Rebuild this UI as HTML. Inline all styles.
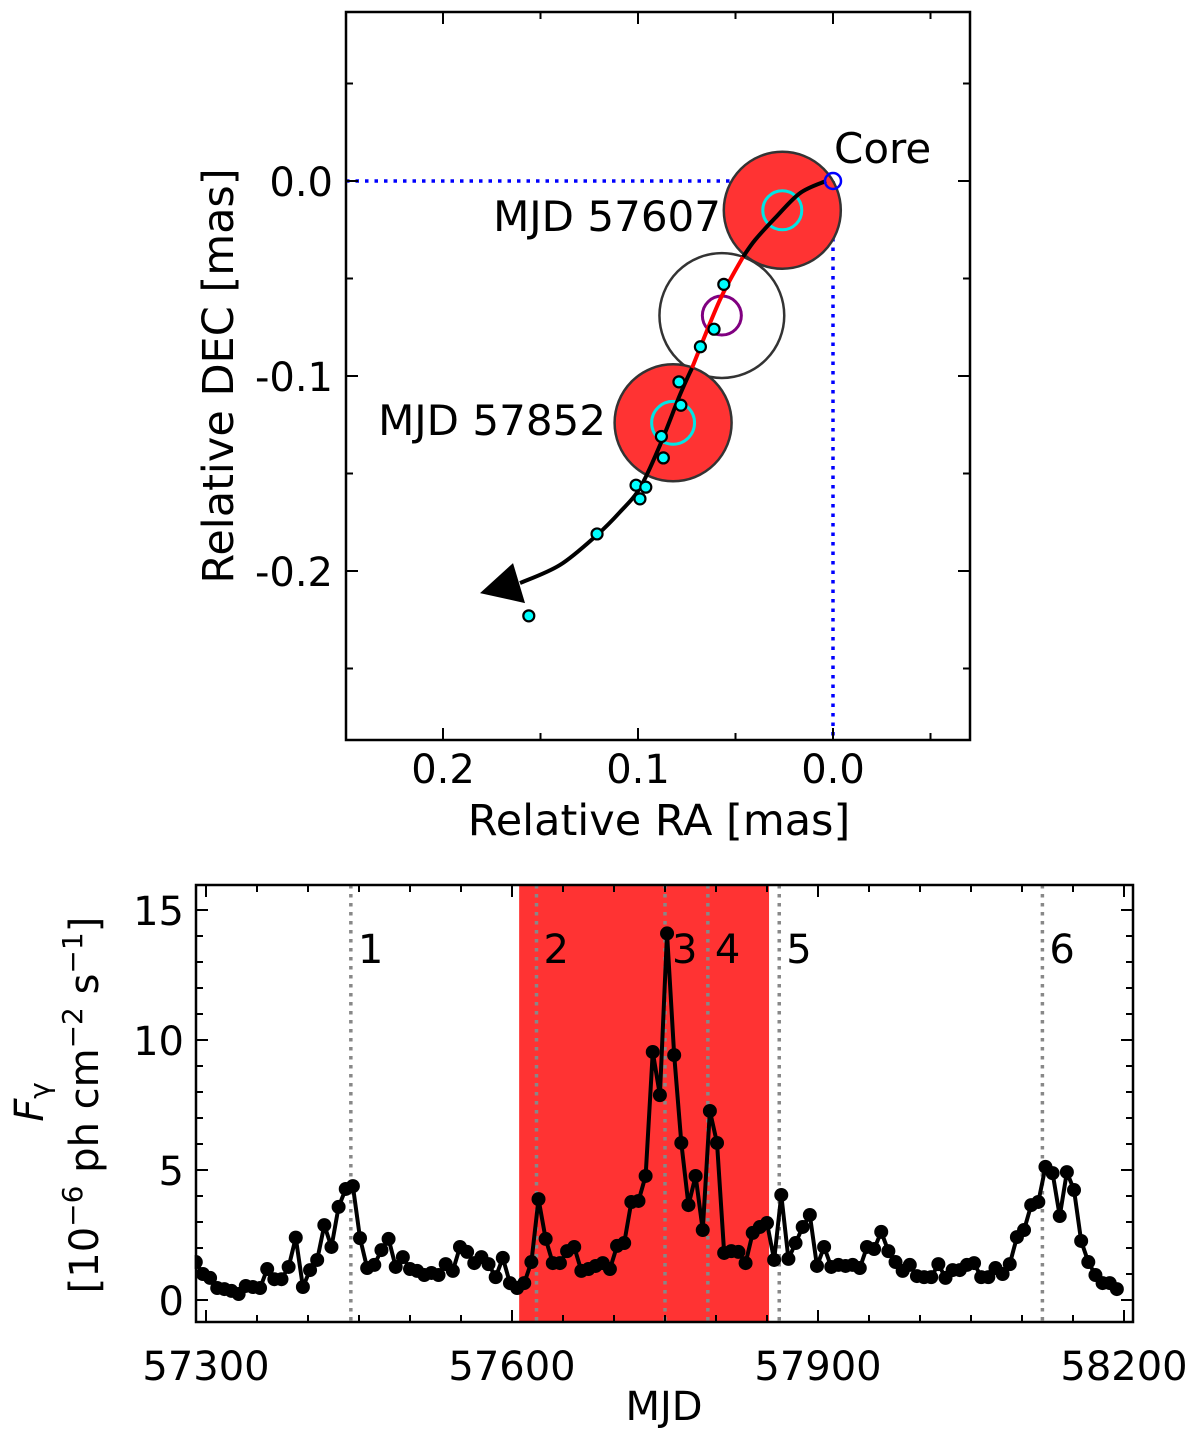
<!DOCTYPE html>
<html><head><meta charset="utf-8">
<style>
html,body{margin:0;padding:0;background:#fff;}
svg text{font-family:"DejaVu Sans","Liberation Sans",sans-serif;fill:#000;}
</style></head>
<body>
<svg id="fig" width="1200" height="1429" viewBox="0 0 1200 1429" xmlns="http://www.w3.org/2000/svg">
<g id="topPanel"></g>
<g id="botPanel"></g>
</svg>
<script>
// ---------- top panel data (mas) ----------
const pointRA  = [0.056, 0.061, 0.068, 0.079, 0.078, 0.088, 0.087, 0.101, 0.096, 0.099, 0.121, 0.156];
const pointDEC = [-0.053, -0.076, -0.085, -0.103, -0.115, -0.131, -0.142, -0.156, -0.157, -0.163, -0.181, -0.223];
const blobRA   = [0.026, 0.057, 0.082];
const blobDEC  = [-0.015, -0.069, -0.124];
const blobR    = [0.030, 0.032, 0.030];
const innerR   = [0.010, 0.010, 0.011];
const curveRA  = [0.0036, 0.0169, 0.0297, 0.040, 0.0462, 0.058, 0.0723, 0.0785, 0.0887, 0.099, 0.1092, 0.121, 0.140, 0.1605];
const curveDEC = [0.0, -0.0062, -0.019, -0.0303, -0.0390, -0.061, -0.0959, -0.1097, -0.1354, -0.1574, -0.1697, -0.1815, -0.1969, -0.2062];
const topXTicks = [0.2, 0.1, 0.0];
const topYTicks = [0.0, -0.1, -0.2];
const topXTickLabels = ["0.2", "0.1", "0.0"];
const topYTickLabels = ["0.0", "-0.1", "-0.2"];

// ---------- light curve data ----------
const mjdStart = 57290, mjdStep = 7;
const flux = [1.46,1.0,0.85,0.46,0.42,0.35,0.23,0.54,0.5,0.46,1.19,0.8,0.8,1.27,2.4,0.5,1.15,1.54,2.88,2.04,3.58,4.27,4.38,2.38,1.23,1.35,1.92,2.35,1.27,1.65,1.19,1.12,0.96,1.04,0.96,1.38,1.12,2.04,1.85,1.42,1.65,1.38,0.88,1.62,0.65,0.46,0.65,
1.46,3.88,2.35,1.42,1.42,1.88,2.04,1.12,1.19,1.31,1.42,1.19,2.08,2.19,3.77,3.81,4.77,9.54,7.88,14.1,9.42,6.04,3.65,4.77,2.69,7.27,6.04,1.81,1.88,1.85,1.42,2.58,2.81,2.96,1.54,4.04,1.58,2.19,2.81,3.27,1.31,
2.04,1.27,1.35,1.31,1.35,1.23,2.04,1.96,2.62,1.88,1.46,1.12,1.35,0.92,0.88,0.88,1.38,0.85,1.15,1.15,1.35,1.42,0.88,0.88,1.23,1.0,1.38,2.42,2.69,3.65,3.77,5.12,4.88,3.23,4.92,4.23,2.27,1.46,0.96,0.65,0.65,0.42];
const epochMJD = [57442, 57624, 57750, 57792, 57862, 58120];
const epochLabels = ["1","2","3","4","5","6"];
const bandStart = 57607, bandEnd = 57852;
const botXTicks = [57300, 57600, 57900, 58200];
const botXTickLabels = ["57300","57600","57900","58200"];
const botYTicks = [0, 5, 10, 15];
const botYTickLabels = ["0","5","10","15"];

const NS = "http://www.w3.org/2000/svg";
function mk(parent, tag, attrs, text) {
  const e = document.createElementNS(NS, tag);
  for (const k in attrs) e.setAttribute(k, attrs[k]);
  if (text !== undefined) e.textContent = text;
  parent.appendChild(e);
  return e;
}

// ===== TOP PANEL =====
const topG = document.getElementById('topPanel');
const TL = 346, TR = 970, TT = 12, TB = 740;
const sx = ra => 833 - ra * 1950;
const sy = dec => 181 - dec * 1950;
const sr = r => r * 1950;

let l1 = mk(topG, 'line', {x1: TL, y1: sy(0), x2: sx(0), y2: sy(0), stroke: '#0000ff', 'stroke-width': 3.5, 'stroke-dasharray': '3.5,6'});


let l2 = mk(topG, 'line', {x1: sx(0), y1: sy(0), x2: sx(0), y2: TB, stroke: '#0000ff', 'stroke-width': 3.5, 'stroke-dasharray': '3.5,6'});



const blobFill = ['#ff3333', '#ffffff', '#ff3333'];
const innerCol = ['#00e5e5', '#800080', '#00e5e5'];
for (let i = 0; i < blobRA.length; i++) {
  let c = mk(topG, 'circle', {cx: sx(blobRA[i]), cy: sy(blobDEC[i]), r: sr(blobR[i]), fill: blobFill[i], stroke: '#333', 'stroke-width': 2.5});
  
  
  let ci = mk(topG, 'circle', {cx: sx(blobRA[i]), cy: sy(blobDEC[i]), r: sr(innerR[i]), fill: 'none', stroke: innerCol[i], 'stroke-width': 3});
  
  
}

function curvePath(idx0, idx1) {
  const P = [];
  for (let i = idx0; i <= idx1; i++) P.push([sx(curveRA[i]), sy(curveDEC[i])]);
  let d = 'M' + P[0][0] + ',' + P[0][1];
  for (let i = 0; i < P.length - 1; i++) {
    const p0 = P[Math.max(0, i - 1)], p1 = P[i], p2 = P[i + 1], p3 = P[Math.min(P.length - 1, i + 2)];
    d += ' C' + (p1[0] + (p2[0] - p0[0]) / 6) + ',' + (p1[1] + (p2[1] - p0[1]) / 6) + ' ' +
         (p2[0] - (p3[0] - p1[0]) / 6) + ',' + (p2[1] - (p3[1] - p1[1]) / 6) + ' ' + p2[0] + ',' + p2[1];
  }
  return d;
}
let pA = mk(topG, 'path', {d: curvePath(0, 4), fill: 'none', stroke: '#000', 'stroke-width': 4});


let pB = mk(topG, 'path', {d: curvePath(4, 6), fill: 'none', stroke: '#ff0000', 'stroke-width': 4});


let pC = mk(topG, 'path', {d: curvePath(6, curveRA.length - 1), fill: 'none', stroke: '#000', 'stroke-width': 4});


const ex = sx(curveRA[curveRA.length - 1]), ey = sy(curveDEC[curveDEC.length - 1]);
let ah = mk(topG, 'polygon', {points: (ex - 40) + ',' + (ey + 10) + ' ' + (ex - 7) + ',' + (ey - 20) + ' ' + (ex + 5) + ',' + (ey + 20), fill: '#000'});



for (let i = 0; i < pointRA.length; i++) {
  let c = mk(topG, 'circle', {cx: sx(pointRA[i]), cy: sy(pointDEC[i]), r: 5.5, fill: '#00ffff', stroke: '#000', 'stroke-width': 2.2});
  
  
}
let core = mk(topG, 'circle', {cx: sx(0), cy: sy(0), r: 8, fill: 'none', stroke: '#0000ff', 'stroke-width': 2.5});



let t1 = mk(topG, 'text', {x: 834, y: 163, 'font-size': 42}, 'Core');


let t2 = mk(topG, 'text', {x: 721, y: 231, 'font-size': 42, 'text-anchor': 'end'}, 'MJD 57607');


let t3 = mk(topG, 'text', {x: 606, y: 435, 'font-size': 42, 'text-anchor': 'end'}, 'MJD 57852');



let fr = mk(topG, 'rect', {x: TL, y: TT, width: TR - TL, height: TB - TT, fill: 'none', stroke: '#000', 'stroke-width': 2.5});


for (let k = -1; k <= 5; k++) {
  const x = sx(k * 0.05); if (x < TL || x > TR) continue;
  const L = (k % 2 === 0) ? 12 : 7;
  mk(topG, 'line', {x1: x, y1: TB, x2: x, y2: TB - L, stroke: '#000', 'stroke-width': 2});
  mk(topG, 'line', {x1: x, y1: TT, x2: x, y2: TT + L, stroke: '#000', 'stroke-width': 2});
}
for (let k = -6; k <= 2; k++) {
  const y = sy(k * 0.05); if (y < TT || y > TB) continue;
  const L = (k % 2 === 0) ? 12 : 7;
  mk(topG, 'line', {x1: TL, y1: y, x2: TL + L, y2: y, stroke: '#000', 'stroke-width': 2});
  mk(topG, 'line', {x1: TR, y1: y, x2: TR - L, y2: y, stroke: '#000', 'stroke-width': 2});
}
topXTicks.forEach((v, i) => {
  let t = mk(topG, 'text', {x: sx(v), y: 783, 'font-size': 40, 'text-anchor': 'middle'}, topXTickLabels[i]);
  
  
});
topYTicks.forEach((v, i) => {
  let t = mk(topG, 'text', {x: 333, y: sy(v) + 15, 'font-size': 40, 'text-anchor': 'end'}, topYTickLabels[i]);
  
  
});
let xt = mk(topG, 'text', {x: 659, y: 835, 'font-size': 43, 'text-anchor': 'middle'}, 'Relative RA [mas]');


let yt = mk(topG, 'text', {x: 0, y: 0, 'font-size': 43, 'text-anchor': 'middle', transform: 'translate(233,376) rotate(-90)'}, 'Relative DEC [mas]');



// ===== BOTTOM PANEL =====
const botG = document.getElementById('botPanel');
const BL = 196, BR = 1133, BT = 885, BB = 1322;
const bx = m => 206 + (m - 57300) * 1.02;
const by = f => 1300 - f * 26;

let band = mk(botG, 'rect', {x: bx(bandStart), y: BT, width: bx(bandEnd) - bx(bandStart), height: BB - BT, fill: '#ff3333'});



epochMJD.forEach((m, i) => {
  let l = mk(botG, 'line', {x1: bx(m), y1: BT, x2: bx(m), y2: BB, stroke: '#888', 'stroke-width': 3.5, 'stroke-dasharray': '3.5,5.5'});
  
  
  let t = mk(botG, 'text', {x: bx(m) + 7, y: 963, 'font-size': 40}, epochLabels[i]);
  
  
});

let pts = flux.map((f, i) => bx(mjdStart + i * mjdStep) + ',' + by(f)).join(' ');
let lc = mk(botG, 'polyline', {points: pts, fill: 'none', stroke: '#000', 'stroke-width': 4, 'stroke-linejoin': 'round'});


flux.forEach((f, i) => {
  let c = mk(botG, 'circle', {cx: bx(mjdStart + i * mjdStep), cy: by(f), r: 7, fill: '#000'});
  
  
});

mk(botG, 'rect', {x: BR + 1.3, y: BT - 5, width: 100, height: BB - BT + 10, fill: '#fff'});
mk(botG, 'rect', {x: BL - 100, y: BT - 5, width: 98.7, height: BB - BT + 10, fill: '#fff'});

let fr2 = mk(botG, 'rect', {x: BL, y: BT, width: BR - BL, height: BB - BT, fill: 'none', stroke: '#000', 'stroke-width': 2.5});


for (let m = 57300; m <= 58200; m += 50) {
  const x = bx(m); if (x < BL || x > BR) continue;
  const L = (m % 300 === 0) ? 12 : 7;
  mk(botG, 'line', {x1: x, y1: BB, x2: x, y2: BB - L, stroke: '#000', 'stroke-width': 2});
  mk(botG, 'line', {x1: x, y1: BT, x2: x, y2: BT + L, stroke: '#000', 'stroke-width': 2});
}
for (let f = 0; f <= 15; f += 1) {
  const y = by(f);
  const L = (f % 5 === 0) ? 12 : 7;
  mk(botG, 'line', {x1: BL, y1: y, x2: BL + L, y2: y, stroke: '#000', 'stroke-width': 2});
  mk(botG, 'line', {x1: BR, y1: y, x2: BR - L, y2: y, stroke: '#000', 'stroke-width': 2});
}
botXTicks.forEach((v, i) => {
  let t = mk(botG, 'text', {x: bx(v), y: 1380, 'font-size': 40, 'text-anchor': 'middle'}, botXTickLabels[i]);
  
  
});
botYTicks.forEach((v, i) => {
  let t = mk(botG, 'text', {x: 184, y: by(v) + 15, 'font-size': 40, 'text-anchor': 'end'}, botYTickLabels[i]);
  
  
});
let bxt = mk(botG, 'text', {x: 664, y: 1420, 'font-size': 40, 'text-anchor': 'middle'}, 'MJD');



let byt1 = mk(botG, 'text', {x: 0, y: 0, 'font-size': 40, 'text-anchor': 'middle', transform: 'translate(43,1102) rotate(-90)'});


mk(byt1, 'tspan', {'font-style': 'italic'}, 'F');
mk(byt1, 'tspan', {'font-size': 28, dy: 6}, 'γ');
let byt2 = mk(botG, 'text', {x: 0, y: 0, 'font-size': 40, 'text-anchor': 'middle', transform: 'translate(98,1105) rotate(-90)'});


mk(byt2, 'tspan', {}, '[10');
mk(byt2, 'tspan', {'font-size': 28, dy: -16}, '−6');
mk(byt2, 'tspan', {dy: 16}, ' ph cm');
mk(byt2, 'tspan', {'font-size': 28, dy: -16}, '−2');
mk(byt2, 'tspan', {dy: 16}, ' s');
mk(byt2, 'tspan', {'font-size': 28, dy: -16}, '−1');
mk(byt2, 'tspan', {dy: 16}, ']');
</script>
</body></html>
